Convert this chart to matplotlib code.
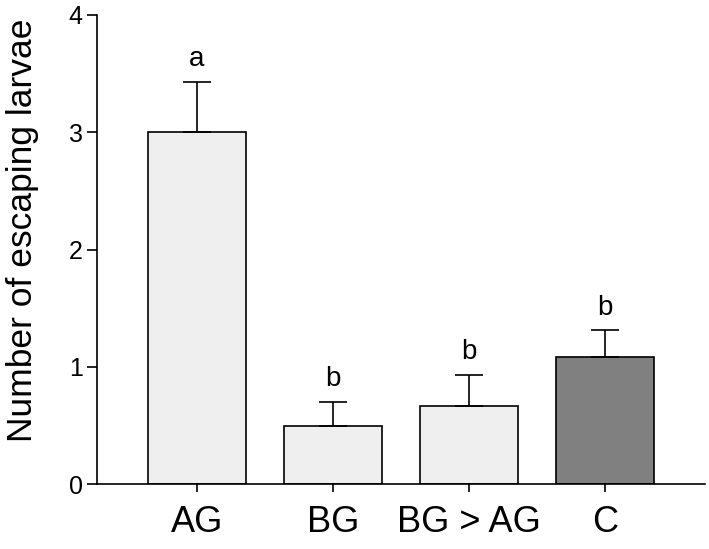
import matplotlib.pyplot as plt

plt.rcParams['font.family'] = ['Liberation Sans', 'DejaVu Sans']

# data
groups = ['AG', 'BG', 'BG > AG', 'C']
means = [3.00, 0.50, 0.67, 1.08]
errors = [0.43, 0.20, 0.26, 0.23]
letters = ['a', 'b', 'b', 'b']
colors = ['#efefef', '#efefef', '#efefef', '#808080']

fig = plt.figure(figsize=(7.09, 5.49), dpi=100)
ax = fig.add_axes([0.137, 0.118, 0.857, 0.855])

x = range(len(groups))
ax.bar(x, means, width=0.72, color=colors, edgecolor='black', linewidth=1.2,
       yerr=[[0] * len(errors), errors], capsize=10,
       error_kw=dict(elinewidth=1.2, capthick=1.2, ecolor='black'))

# significance letters above the error bars
for xi, m, e, lab in zip(x, means, errors, letters):
    ax.annotate(lab, (xi, m + e), xytext=(0, 7), textcoords='offset points',
                ha='center', va='bottom', fontsize=20)

ax.set_xlim(-0.735, 3.735)
ax.set_ylim(0, 4)
ax.set_yticks([0, 1, 2, 3, 4])
ax.set_xticks(list(x))
ax.set_xticklabels(groups, fontsize=26)
ax.tick_params(axis='y', labelsize=18, length=7, width=1.2, direction='out')
ax.tick_params(axis='x', length=6, width=1.2, direction='out', pad=9)
ax.spines['top'].set_visible(False)
ax.spines['right'].set_visible(False)
ax.spines['left'].set_linewidth(1.2)
ax.spines['bottom'].set_linewidth(1.2)
ax.set_ylabel('Number of escaping larvae', fontsize=25.5)
ax.yaxis.set_label_coords(-0.095, 0.54)

fig.savefig('out.png', dpi=100)
